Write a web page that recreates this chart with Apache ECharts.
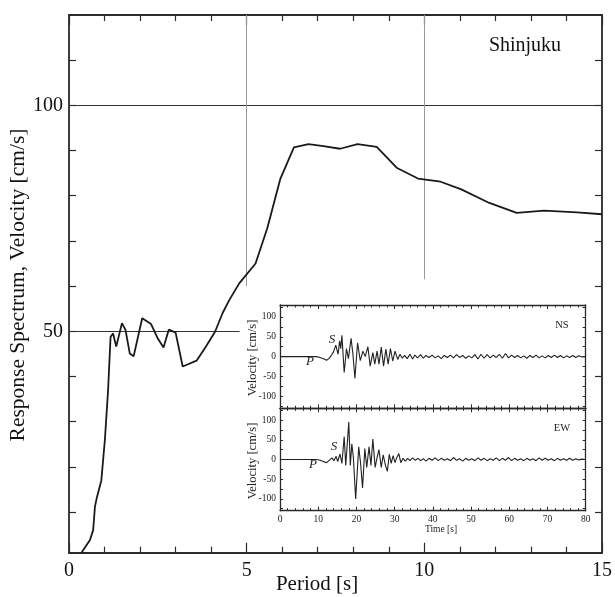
<!DOCTYPE html>
<html>
<head>
<meta charset="utf-8">
<script src="https://cdn.jsdelivr.net/npm/echarts@6/dist/echarts.min.js"></script>
<style>
html,body{margin:0;padding:0;background:#fff;}
#chart{width:615px;height:597px;}
</style>
</head>
<body>
<div id="chart"></div>
<script>
// ---- Data ----
var periods = [0.35,0.59,0.68,0.73,0.79,0.91,1.01,1.10,1.17,1.24,1.33,1.49,1.59,1.71,1.82,2.06,2.31,2.50,2.66,2.81,3.00,3.20,3.59,3.85,4.11,4.32,4.51,4.79,5.25,5.58,5.95,6.33,6.74,7.16,7.63,8.12,8.66,9.22,9.82,10.46,11.04,11.83,12.60,13.37,14.30,15.0];
var spectrum = [1,3.8,6,11.2,13.4,17,26,37,48.8,49.5,46.6,51.8,50.3,45.1,44.5,52.9,51.6,48.4,46.4,50.4,49.7,42.2,43.5,46.6,49.9,54,56.9,60.6,65,72.8,83.8,90.7,91.4,91,90.4,91.4,90.8,86.2,83.8,83.1,81.4,78.4,76.2,76.7,76.3,75.9];

var periodTicks = [0,5,10,15];
var spectrumLabels = [50,100];

var nsTrace = [[0,0],[9.5,0],[10.5,-2],[11.5,-6],[12.2,-9],[12.8,-5],[13.5,4],[14.0,12],[14.6,29],[15.2,6],[15.6,40],[15.9,20],[16.2,54],[16.8,-40],[17.4,20],[17.9,-5],[18.6,46],[19.1,5],[19.6,-55],[20.3,35],[21.0,-10],[21.7,14],[22.3,0],[23.0,25],[23.6,-24],[24.3,10],[24.8,-19],[25.4,14],[25.9,-19],[26.5,24],[27.1,-24],[27.7,19],[28.3,-19],[28.9,20],[29.5,-11],[30.1,14],[30.8,-7],[31.4,6],[32.0,-4],[32.6,3],[33.3,-5],[34.0,6],[34.7,-6],[35.3,4],[36.0,-3],[36.8,5],[37.5,-4],[38.2,3],[39.0,-2],[39.8,4],[40.6,-3],[41.4,2],[42.2,-5],[43.0,3],[43.8,-2],[44.6,4],[45.4,-3],[46.2,5],[47.0,-2],[47.8,3],[48.6,-4],[49.4,2],[50.2,-3],[51.0,5],[51.8,-6],[52.6,6],[53.4,-4],[54.2,5],[55.0,-3],[55.8,4],[56.6,-2],[57.4,6],[58.2,-4],[59.0,8],[59.8,-3],[60.6,4],[61.4,-2],[62.2,3],[63.0,-3],[63.8,2],[64.6,-4],[65.4,3],[66.2,-2],[67.0,4],[67.8,-3],[68.6,2],[69.4,-3],[70.2,3],[71.0,-2],[71.8,4],[72.6,-2],[73.4,3],[74.2,-3],[75.0,2],[75.8,-2],[76.6,3],[77.4,-2],[78.2,2],[79.0,-1],[80,0]];

var ewTrace = [[0,0],[9.5,0],[10.5,-2],[11.5,-6],[12.2,-8],[13.0,-1],[13.6,4],[14.1,-3],[14.7,8],[15.1,-5],[15.7,14],[16.2,-10],[16.8,58],[17.2,-15],[17.5,25],[18.0,95],[18.4,-15],[18.8,40],[19.2,5],[19.8,-100],[20.6,32],[21.1,-10],[21.6,-72],[22.2,28],[22.7,-20],[23.3,32],[23.8,-15],[24.3,52],[24.9,-20],[25.4,5],[25.9,25],[26.5,-20],[27.0,12],[27.6,-15],[28.1,-30],[28.6,13],[29.1,-10],[29.6,10],[30.1,-8],[30.6,6],[31.1,15],[31.6,-8],[32.2,3],[32.8,-4],[33.4,3],[34.0,-3],[34.7,4],[35.4,-2],[36.1,3],[36.8,-3],[37.5,2],[38.2,-4],[39.0,3],[39.8,-2],[40.6,4],[41.4,-3],[42.2,3],[43.0,-2],[43.8,2],[44.6,-3],[45.4,5],[46.2,-2],[47.0,2],[47.8,-4],[48.6,3],[49.4,-2],[50.2,2],[51.0,-3],[51.8,4],[52.6,-2],[53.4,3],[54.2,-3],[55.0,2],[55.8,-2],[56.6,4],[57.4,-3],[58.2,3],[59.0,-2],[59.8,5],[60.6,-3],[61.4,3],[62.2,-2],[63.0,2],[63.8,-3],[64.6,3],[65.4,-2],[66.2,2],[67.0,-3],[67.8,4],[68.6,-2],[69.4,3],[70.2,-2],[71.0,2],[71.8,-3],[72.6,3],[73.4,-2],[74.2,2],[75.0,-2],[75.8,3],[76.6,-2],[77.4,2],[78.2,-1],[79.0,1],[80,0]];

var timeTicks = [0,10,20,30,40,50,60,70,80];
var velLabels = [-100,-50,0,50,100];

// ---- Chart ----
var SERIF = '"Liberation Serif","Times New Roman",serif';
var dark = '#2a2a2a';
var chart = echarts.init(document.getElementById('chart'), null, {renderer:'canvas'});

var spectrumData = periods.map(function(p,i){return [p, spectrum[i]];});

function range(a,b,s){var r=[];for(var v=a;v<=b+1e-9;v+=s){r.push(v);}return r;}

function mainX(pos, showLabel){
  return {type:'value', gridIndex:0, position:pos, min:0, max:15, interval:5,
    axisLine:{show:true, onZero:false, lineStyle:{color:dark, width:1.8}},
    axisTick:{show:true, inside:true, length:10, lineStyle:{color:dark, width:1.2}},
    minorTick:{show:true, splitNumber:5, length:6, lineStyle:{color:dark, width:1.2}},
    axisLabel:{show:showLabel, margin:8, fontFamily:SERIF, fontSize:20, color:'#111'},
    splitLine:{show:false}};
}
function mainY(pos, showLabel){
  return {type:'value', gridIndex:0, position:pos, min:1, max:120,
    axisLine:{show:true, onZero:false, lineStyle:{color:dark, width:1.8}},
    axisTick:{show:true, inside:true, length:7, customValues:range(10,110,10), lineStyle:{color:dark, width:1.2}},
    axisLabel:{show:showLabel, margin:6, customValues:spectrumLabels, fontFamily:SERIF, fontSize:20, color:'#111'},
    splitLine:{show:false}};
}
function insetX(grid, pos, showLabel){
  return {type:'value', gridIndex:grid, position:pos, min:0, max:80, interval:10,
    axisLine:{show:true, onZero:false, lineStyle:{color:dark, width:1.3}},
    axisTick:{show:true, inside:true, length:4, lineStyle:{color:dark, width:1}},
    minorTick:{show:true, splitNumber:5, length:2.5, lineStyle:{color:dark, width:1}},
    axisLabel:{show:showLabel, margin:4, fontFamily:SERIF, fontSize:9.5, color:'#222'},
    splitLine:{show:false}};
}
function insetY(grid, pos, showLabel){
  return {type:'value', gridIndex:grid, position:pos, min:-130, max:130,
    axisLine:{show:true, onZero:false, lineStyle:{color:dark, width:1.3}},
    axisTick:{show:true, inside:true, length:3, customValues:range(-125,125,25), lineStyle:{color:dark, width:1}},
    axisLabel:{show:showLabel, margin:4, customValues:velLabels, fontFamily:SERIF, fontSize:9.5, color:'#222'},
    splitLine:{show:false}};
}

var option = {
  animation:false,
  backgroundColor:'#fff',
  grid:[
    {left:69, top:15, width:536, height:537.7},
    {left:280, top:305, width:305.7, height:103.3},
    {left:280, top:408.3, width:305.7, height:102.4}
  ],
  xAxis:[mainX('bottom', true), mainX('top', false),
         insetX(1,'bottom',false), insetX(1,'top',false),
         insetX(2,'bottom',true), insetX(2,'top',false)],
  yAxis:[mainY('left', true), mainY('right', false),
         insetY(1,'left',true), insetY(1,'right',false),
         insetY(2,'left',true), insetY(2,'right',false)],
  series:[
    {type:'line', xAxisIndex:0, yAxisIndex:0, data:spectrumData, showSymbol:false, symbol:'none',
     lineStyle:{color:'#1a1a1a', width:1.8}, z:5,
     markLine:{silent:true, symbol:['none','none'], label:{show:false},
       data:[
         [{coord:[0,100], lineStyle:{color:'#333', width:1.2, type:'solid'}},{coord:[15,100]}],
         [{coord:[0,50], lineStyle:{color:'#333', width:1.2, type:'solid'}},{coord:[4.8,50]}],
         [{coord:[5,120], lineStyle:{color:'#999', width:1, type:'solid'}},{coord:[5,60]}],
         [{coord:[10,120], lineStyle:{color:'#999', width:1, type:'solid'}},{coord:[10,61.5]}]
       ]}},
    {type:'line', xAxisIndex:2, yAxisIndex:2, data:nsTrace, showSymbol:false, symbol:'none',
     lineStyle:{color:'#222', width:1.1}},
    {type:'line', xAxisIndex:4, yAxisIndex:4, data:ewTrace, showSymbol:false, symbol:'none',
     lineStyle:{color:'#222', width:1.1}}
  ],
  graphic:[
    {type:'text', x:18, y:285, rotation:Math.PI/2,
     style:{text:'Response Spectrum, Velocity [cm/s]', font:'21.5px '+SERIF, fill:'#111',
            align:'center', verticalAlign:'middle', textAlign:'center', textVerticalAlign:'middle'}},
    {type:'text', x:317, y:584,
     style:{text:'Period [s]', font:'21px '+SERIF, fill:'#111',
            align:'center', verticalAlign:'middle', textAlign:'center', textVerticalAlign:'middle'}},
    {type:'text', x:525, y:46,
     style:{text:'Shinjuku', font:'20px '+SERIF, fill:'#111',
            align:'center', verticalAlign:'middle', textAlign:'center', textVerticalAlign:'middle'}},
    {type:'text', x:253, y:358, rotation:Math.PI/2,
     style:{text:'Velocity [cm/s]', font:'12.5px '+SERIF, fill:'#222',
            align:'center', verticalAlign:'middle', textAlign:'center', textVerticalAlign:'middle'}},
    {type:'text', x:253, y:461, rotation:Math.PI/2,
     style:{text:'Velocity [cm/s]', font:'12.5px '+SERIF, fill:'#222',
            align:'center', verticalAlign:'middle', textAlign:'center', textVerticalAlign:'middle'}},
    {type:'text', x:441, y:529,
     style:{text:'Time [s]', font:'9.5px '+SERIF, fill:'#222',
            align:'center', verticalAlign:'middle', textAlign:'center', textVerticalAlign:'middle'}},
    {type:'text', x:562, y:325,
     style:{text:'NS', font:'10.5px '+SERIF, fill:'#222',
            align:'center', verticalAlign:'middle', textAlign:'center', textVerticalAlign:'middle'}},
    {type:'text', x:562, y:428,
     style:{text:'EW', font:'10.5px '+SERIF, fill:'#222',
            align:'center', verticalAlign:'middle', textAlign:'center', textVerticalAlign:'middle'}},
    {type:'text', x:310, y:362,
     style:{text:'P', font:'italic 13px '+SERIF, fill:'#222',
            align:'center', verticalAlign:'middle', textAlign:'center', textVerticalAlign:'middle'}},
    {type:'text', x:332, y:340,
     style:{text:'S', font:'italic 13px '+SERIF, fill:'#222',
            align:'center', verticalAlign:'middle', textAlign:'center', textVerticalAlign:'middle'}},
    {type:'text', x:313, y:465,
     style:{text:'P', font:'italic 13px '+SERIF, fill:'#222',
            align:'center', verticalAlign:'middle', textAlign:'center', textVerticalAlign:'middle'}},
    {type:'text', x:334, y:447,
     style:{text:'S', font:'italic 13px '+SERIF, fill:'#222',
            align:'center', verticalAlign:'middle', textAlign:'center', textVerticalAlign:'middle'}}
  ]
};
chart.setOption(option);
</script>
</body>
</html>
